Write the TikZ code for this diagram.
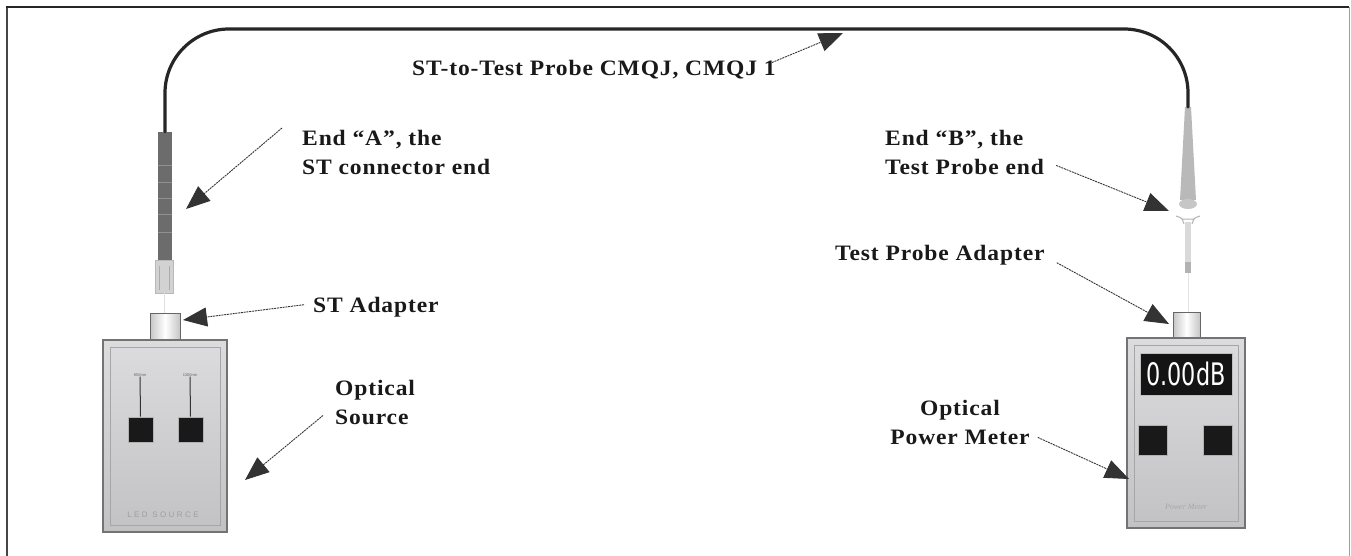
\documentclass[tikz,border=0pt]{standalone}
\usepackage{fontspec}
\setmainfont{Liberation Serif}
\newfontfamily\lcdfont{DejaVu Sans}
\newfontfamily\casefont{Liberation Sans}
\usetikzlibrary{arrows.meta}

\definecolor{casegray}{HTML}{C2C2C4}
\definecolor{caselight}{HTML}{DCDCDE}
\definecolor{bootgray}{HTML}{6C6C6C}

\tikzset{
	lbl/.style={font=\fontsize{22}{29}\selectfont\bfseries\addfontfeatures{FakeStretch=1.07,LetterSpace=4},
		inner sep=0pt, text=black!90},
	ptr/.style={draw=black!80, line width=0.9pt, dash pattern=on 2pt off 0.8pt,
		-{Triangle[length=24pt,width=19pt]}},
	cable/.style={draw=black!85, line width=3.2pt, line cap=round, rounded corners=64pt},
	casebox/.style={shape=rectangle, draw=black!55, line width=1.6pt,
		top color=caselight, bottom color=casegray, inner sep=0pt},
	caseinner/.style={shape=rectangle, draw=gray!70, line width=1pt, inner sep=0pt},
	adapter/.style={shape=rectangle, draw=black!60, line width=1pt,
		left color=gray!45, right color=gray!45, middle color=white, inner sep=0pt},
	keybox/.style={shape=rectangle, fill=black!90, draw=gray!60, line width=1pt,
		minimum width=25pt, minimum height=25pt, inner sep=0pt},
}

\begin{document}
\begin{tikzpicture}[x=1pt, y=-1pt]
	\useasboundingbox (0,0) rectangle (1351,556);

	% Frame (open at the bottom)
	\draw[gray!55!black, line width=2pt] (7,556) -- (7,7);
	\draw[black!85, line width=1.6pt] (6,7) -- (1349,7);
	\draw[gray!75, line width=1pt] (1349,7) -- (1349,556);

	% ST connector on end A
	\node[shape=rectangle, fill=bootgray, minimum width=14pt, minimum height=128pt,
	inner sep=0pt] (bootA) at (165,196){};
	\foreach \yy in {165,182,198,214,232}
		\draw[white!25!bootgray, line width=0.8pt] (158,\yy) -- (172,\yy);
	\node[shape=rectangle, fill=gray!35, draw=gray!55, minimum width=18pt,
	minimum height=33pt, inner sep=0pt] (ferA) at (164,277){};
	\draw[gray!65, line width=1pt] (159,266) -- (159,290) (169,266) -- (169,290);
	\draw[gray!25, line width=1pt] (164,293) -- (164,313);

	% Test probe on end B
	\coordinate (prB) at (1188,107);
	\fill[gray!55] (1185,107) -- (1191,107) -- (1196,200) -- (1180,200) -- cycle;
	\fill[gray!45] (1188,204) ellipse [x radius=9pt, y radius=5pt];
	\draw[gray!60, line width=1pt] (1176,216) .. controls (1182,218) .. (1184,224)
	(1200,216) .. controls (1194,218) .. (1192,224) (1182,219) -- (1194,219);
	\fill[gray!30] (1185,222) rectangle (1191,262);
	\fill[gray!60] (1185,262) rectangle (1191,273);
	\draw[gray!22, line width=1pt] (1188,273) -- (1188,312);

	% Fibre between the two ends
	\coordinate (top) at (600,29);
	\draw[cable] (bootA.north) -- (bootA.north |- top) -- (top -| prB) -- (prB);

	% Optical source
	\node[adapter, minimum width=30pt, minimum height=27pt] (stad) at (165,326.5){};
	\node[casebox, minimum width=124pt, minimum height=192pt] (src) at (165,436){};
	\node[caseinner, minimum width=110pt, minimum height=178pt] at (165,436){};
	\node[font=\fontsize{4}{4}\selectfont\casefont, text=black!60, inner sep=0pt]
	(sw1) at (140,375){850nm};
	\node[font=\fontsize{4}{4}\selectfont\casefont, text=black!60, inner sep=0pt]
	(sw2) at (190,375){1300nm};
	\node[keybox] (k1) at (140.5,429.5){};
	\node[keybox] (k2) at (190.5,429.5){};
	\draw[black!80, line width=1pt] (sw1) -- (k1.north) (sw2) -- (k2.north);
	\node[font=\fontsize{8}{8}\selectfont\casefont\addfontfeatures{LetterSpace=30},
	text=gray!75, inner sep=0pt] at (163,515){LED SOURCE};

	% Optical power meter
	\node[adapter, minimum width=27pt, minimum height=26pt] (tpad) at (1186.5,325){};
	\node[casebox, minimum width=118pt, minimum height=190pt] (pm) at (1186,433){};
	\node[caseinner, minimum width=104pt, minimum height=176pt] at (1186,433){};
	\node[shape=rectangle, fill=black!92, draw=gray!50, line width=1pt,
	minimum width=92pt, minimum height=42pt, inner sep=0pt] (lcd) at (1186,374){};
	\node[text=white, inner sep=0pt] at (lcd)
	{\scalebox{0.72}[1]{\lcdfont\fontsize{31}{31}\selectfont 0.00dB}};
	\node[keybox, minimum width=29pt, minimum height=30pt] (k3) at (1152.5,440){};
	\node[keybox, minimum width=29pt, minimum height=30pt] (k4) at (1217.5,440){};
	\node[font=\fontsize{8}{8}\selectfont\itshape, text=gray!70, inner sep=0pt]
	at (1186,507){Power Meter};

	% Labels
	\node[lbl, anchor=base west] (cbl) at (412,76){ST-to-Test Probe CMQJ, CMQJ 1};
	\node[lbl, anchor=north west, align=left] (endA) at (302,130){End “A”, the\\ST connector end};
	\node[lbl, anchor=base west] (stlbl) at (313,312){ST Adapter};
	\node[lbl, anchor=north west, align=left] (srclbl) at (335,380){Optical\\Source};
	\node[lbl, anchor=north west, align=left] (endB) at (885,130){End “B”, the\\Test Probe end};
	\node[lbl, anchor=base west] (tpalbl) at (835,260){Test Probe Adapter};
	\node[lbl, anchor=north, align=center] (pmlbl) at (960,400){Optical\\Power Meter};

	% Arrow tips
	\coordinate (tipC) at (843,33);
	\coordinate (tipA) at (186,209);
	\coordinate (tipS) at (183,320);
	\coordinate (tipO) at (245,480);
	\coordinate (tipB) at (1169,211);
	\coordinate (tipT) at (1169,324);
	\coordinate (tipM) at (1129,479);

	\draw[ptr] ([xshift=-4pt,yshift=-2pt]cbl.north east) -- (tipC);
	\draw[ptr] ([xshift=-20pt,yshift=2pt]endA.north west) -- (tipA);
	\draw[ptr] ([xshift=-9pt,yshift=2pt]stlbl.west) -- (tipS);
	\draw[ptr] ([xshift=-12pt,yshift=-13pt]srclbl.west) -- (tipO);
	\draw[ptr] ([xshift=12pt,yshift=-13pt]endB.east) -- (tipB);
	\draw[ptr] ([xshift=12pt,yshift=-8pt]tpalbl.east) -- (tipT);
	\draw[ptr] ([xshift=8pt,yshift=-15pt]pmlbl.east) -- (tipM);
\end{tikzpicture}
\end{document}
